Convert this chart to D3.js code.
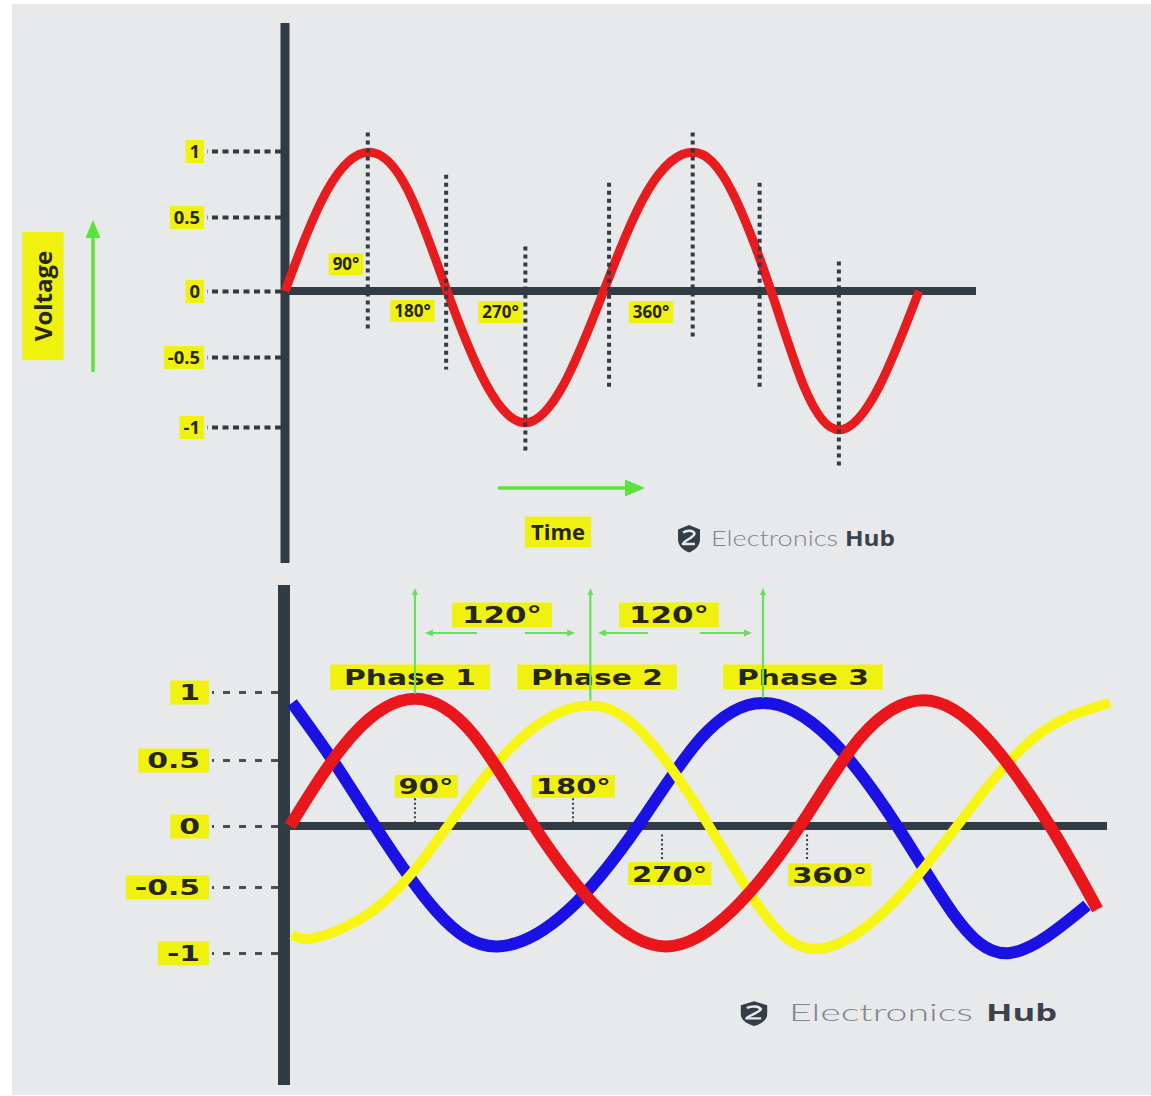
<!DOCTYPE html>
<html><head><meta charset="utf-8">
<script src="https://cdn.jsdelivr.net/npm/d3@7"></script>
<style>html,body{margin:0;padding:0;background:#fff;} svg{display:block}</style>
</head><body>
<svg id="chart" width="1151" height="1096"></svg>
<script>
// ================= DATA =================
// --- Top chart: single-phase AC voltage (x = electrical degrees, y = normalised voltage)
const topDeg  = [0, 47.7, 95.4, 139.7, 184, 228, 272.5, 317, 362, 412, 463, 507, 552, 590, 629, 674, 720];
const topVolt = [0, 0.70, 0.99, 0.70, 0, -0.69, -0.97, -0.69, 0, 0.70, 0.99, 0.70, 0, -0.72, -1.02, -0.72, 0];
const topTickValues = [1, 0.5, 0, -0.5, -1];
const topTickLabels = ["1", "0.5", "0", "-0.5", "-1"];
// dotted guide lines (degree position, top value, bottom value)
const topGuideDeg    = [94, 183, 273, 368, 463, 539, 629];
const topGuideTop    = [1.14, 0.82, 0.30, 0.76, 1.14, 0.76, 0.20];
const topGuideBottom = [-0.29, -0.59, -1.18, -0.72, -0.37, -0.72, -1.28];
const topAngleLabels = ["90°", "180°", "270°", "360°"];
const topAngleDeg    = [69.3, 144.8, 244.7, 415.6];
const topAngleVolt   = [0.18, -0.15, -0.16, -0.16];
const topAxisTitleY  = "Voltage";
const topAxisTitleX  = "Time";

// --- Bottom chart: three-phase voltages
const phaseNames = ["Phase 1", "Phase 2", "Phase 3"];
const phase1Deg = [0, 44, 88.2, 130, 172.2, 219, 265.4, 312, 360, 403, 447, 491, 536.5, 570];
const phase1Val = [0, 0.68, 0.95, 0.68, 0, -0.68, -0.95, -0.68, 0, 0.67, 0.94, 0.67, 0, -0.67];
const phase2Deg = [1.4, 19.8, 65.6, 111.5, 161, 212, 254, 295.8, 333, 370.6, 420, 470.8, 525, 578.8];
const phase2Val = [-0.86, -0.88, -0.62, 0, 0.64, 0.90, 0.64, 0, -0.68, -0.97, -0.68, 0, 0.66, 0.92];
const phase3Deg = [1.4, 30, 60, 103, 146.1, 196, 245.6, 290, 333.9, 381, 428.5, 468, 508.2, 562.6];
const phase3Val = [0.92, 0.50, 0, -0.68, -0.95, -0.68, 0, 0.66, 0.92, 0.66, 0, -0.70, -1.0, -0.64];
const botTickValues = [1, 0.5, 0, -0.5, -1];
const botTickLabels = ["1", "0.5", "0", "-0.5", "-1"];
const phaseArrowDeg  = [88.2, 212, 333.9];
const phaseArrowPeak = [0.95, 0.90, 0.92];
const phaseLabelDeg  = [84.7, 216.7, 362.1];
const shiftLabels    = ["120°", "120°"];
const shiftLabelDeg  = [149.6, 267.5];
const shiftArrowTail = [132, 165.9, 252.7, 289.4];
const shiftArrowHead = [95.3, 201.2, 217.4, 326.1];
const botAngleLabels = ["90°", "180°", "270°", "360°"];
const botAngleTickDeg = [88.2, 199.8, 262.6, 365];
const botAngleTickFrom = [0.21, 0.21, -0.07, -0.07];
const botAngleTickTo   = [0.01, 0.01, -0.27, -0.27];
const botAngleLabelDeg = [96, 200, 268, 381];
const botAngleLabelVal = [0.30, 0.30, -0.39, -0.40];
const brandLight = "Electronics";
const brandBold  = "Hub";

// ================= DRAWING =================
const W = 1151, H = 1096;
const svg = d3.select("#chart");
const AXIS = "#313b44", YEL = "#f1f10f", INK = "#26261c", GREEN = "#5be23b", GREEN2 = "#66e05a";
const FONT_TOP = "'Open Sans', 'DejaVu Sans', sans-serif";
const FONT_BOT = "'DejaVu Sans', 'Open Sans', sans-serif";

svg.append("rect").attr("width", W).attr("height", H).attr("fill", "#fff");
svg.append("rect").attr("x", 12).attr("y", 4).attr("width", W - 12).attr("height", 1091).attr("fill", "#e8e9eb");

function boxText(parent, x, y, text, o) {
  const g = parent.append("g");
  const rect = g.append("rect").attr("fill", YEL);
  const a = o.anchor || "middle";
  const t = g.append("text").attr("x", x).attr("y", y).attr("dy", "0.36em")
    .attr("text-anchor", a).attr("font-family", o.font).attr("font-weight", 700)
    .attr("font-size", o.size).attr("fill", INK).text(text);
  let L = t.node().getComputedTextLength();
  if (o.stretch && o.stretch !== 1) {
    L *= o.stretch;
    t.attr("textLength", L).attr("lengthAdjust", "spacingAndGlyphs");
  }
  const left = a === "middle" ? x - L / 2 : a === "end" ? x - L : x;
  rect.attr("x", left - o.padX).attr("y", y - o.h / 2).attr("width", L + 2 * o.padX).attr("height", o.h);
  return g;
}

function boxAxisTexts(axisG, o) {
  axisG.selectAll(".tick").each(function () {
    const tick = d3.select(this);
    const t = tick.select("text");
    t.attr("font-family", o.font).attr("font-weight", 700).attr("font-size", o.size)
      .attr("fill", INK).attr("dy", "0.36em");
    let L = t.node().getComputedTextLength();
    if (o.stretch && o.stretch !== 1) {
      L *= o.stretch;
      t.attr("textLength", L).attr("lengthAdjust", "spacingAndGlyphs");
    }
    const xEnd = +t.attr("x");
    tick.insert("rect", "text").attr("fill", YEL)
      .attr("x", xEnd - L - o.padX).attr("y", -o.h / 2)
      .attr("width", L + 2 * o.padX).attr("height", o.h);
  });
}

function arrow(parent, x1, y1, x2, y2, o) {
  const dx = x2 - x1, dy = y2 - y1, len = Math.hypot(dx, dy);
  const ux = dx / len, uy = dy / len;
  const bx = x2 - ux * o.headLen, by = y2 - uy * o.headLen;
  parent.append("line").attr("x1", x1).attr("y1", y1).attr("x2", bx + ux * 1).attr("y2", by + uy * 1)
    .attr("stroke", o.color).attr("stroke-width", o.width);
  parent.append("path")
    .attr("d", `M${x2},${y2}L${bx - uy * o.headW / 2},${by + ux * o.headW / 2}L${bx + uy * o.headW / 2},${by - ux * o.headW / 2}Z`)
    .attr("fill", o.color);
}

function logo(parent, cx, cy, sx, sy) {
  const g = parent.append("g").attr("transform", `translate(${cx},${cy}) scale(${sx},${sy})`);
  g.append("path").attr("d", "M0,-13 L11,-8.5 L11,1 C11,8 6,12 0,14.5 C-6,12 -11,8 -11,1 L-11,-8.5 Z")
    .attr("fill", "#353e46");
  g.append("path").attr("d", "M-6,-5.5 C-2,-8 4,-8 5.5,-4.5 C6,-1 -6,3 -6,6 L6,6")
    .attr("fill", "none").attr("stroke", "#e8e9eb").attr("stroke-width", 2.6).attr("stroke-linejoin", "round");
}

// ---------- TOP CHART ----------
const xTop = d3.scaleLinear().domain([0, 720]).range([285, 919]);
const yTop = d3.scaleLinear().domain([-1, -0.5, 0, 0.5, 1]).range([427, 357, 291, 217, 151]);
const gTop = svg.append("g");

// y tick labels + dotted leaders (d3 axis)
const topAxisG = gTop.append("g").attr("transform", `translate(${xTop(0) - 4},0)`)
  .call(d3.axisLeft(yTop).tickValues(topTickValues).tickFormat((d, i) => topTickLabels[i]).tickSize(74).tickPadding(7));
topAxisG.select(".domain").remove();
topAxisG.selectAll(".tick line").attr("stroke", AXIS).attr("stroke-width", 4).attr("stroke-dasharray", "6 4.5");
boxAxisTexts(topAxisG, { font: FONT_TOP, size: 17, padX: 4, h: 23, stretch: 1.08 });

// axes lines
gTop.append("line").attr("x1", xTop(0)).attr("x2", xTop(0)).attr("y1", 23).attr("y2", 563)
  .attr("stroke", AXIS).attr("stroke-width", 9);
gTop.append("line").attr("x1", xTop(0) - 4).attr("x2", 976).attr("y1", yTop(0)).attr("y2", yTop(0))
  .attr("stroke", AXIS).attr("stroke-width", 8);

// sine wave
const topLine = d3.line().x(d => xTop(d[0])).y(d => yTop(d[1])).curve(d3.curveNatural);
gTop.append("path").attr("d", topLine(d3.zip(topDeg, topVolt)))
  .attr("fill", "none").attr("stroke", "#e61c1f").attr("stroke-width", 9);

// dotted guides
gTop.selectAll(".guide").data(topGuideDeg).join("line")
  .attr("x1", d => xTop(d)).attr("x2", d => xTop(d))
  .attr("y1", (d, i) => yTop(topGuideTop[i])).attr("y2", (d, i) => yTop(topGuideBottom[i]))
  .attr("stroke", AXIS).attr("stroke-width", 4).attr("stroke-dasharray", "4 4");

// angle labels
topAngleLabels.forEach((s, i) => boxText(gTop, xTop(topAngleDeg[i]), yTop(topAngleVolt[i]), s,
  { font: FONT_TOP, size: 17, padX: 4, h: 22 }));

// Voltage title + arrow
const vg = gTop.append("g").attr("transform", "translate(43,296) rotate(-90)");
boxText(vg, 0, 0, topAxisTitleY, { font: FONT_TOP, size: 24, padX: 19, h: 41 });
arrow(gTop, 93, 372, 93, 220, { color: GREEN, width: 3.5, headLen: 18, headW: 15 });

// Time title + arrow
arrow(gTop, 498, 488, 645, 488, { color: GREEN, width: 3.5, headLen: 20, headW: 17 });
boxText(gTop, 558, 532, topAxisTitleX, { font: FONT_TOP, size: 22, padX: 6, h: 31 });

// watermark top
logo(gTop, 689, 538, 1, 1);
gTop.append("text").attr("x", 711).attr("y", 546).attr("font-family", "Lato, 'Open Sans', sans-serif")
  .attr("font-weight", 300).attr("font-size", 21).attr("fill", "#80868d")
  .attr("textLength", 127).attr("lengthAdjust", "spacingAndGlyphs").text(brandLight);
gTop.append("text").attr("x", 845).attr("y", 546).attr("font-family", FONT_TOP)
  .attr("font-weight", 700).attr("font-size", 21).attr("fill", "#3a434b")
  .attr("textLength", 50).attr("lengthAdjust", "spacingAndGlyphs").text(brandBold);

// ---------- BOTTOM CHART ----------
const xBot = d3.scaleLinear().domain([0, 360]).range([290, 800]);
const yBot = d3.scaleLinear().domain([-1, -0.5, 0, 0.5, 1]).range([953, 887, 826, 760, 692]);
const gBot = svg.append("g");

const botAxisG = gBot.append("g").attr("transform", `translate(${xBot(0) - 12},0)`)
  .call(d3.axisLeft(yBot).tickValues(botTickValues).tickFormat((d, i) => botTickLabels[i]).tickSize(66).tickPadding(12));
botAxisG.select(".domain").remove();
botAxisG.selectAll(".tick line").attr("stroke", "#4a4f55").attr("stroke-width", 3).attr("stroke-dasharray", "7 9");
boxAxisTexts(botAxisG, { font: FONT_BOT, size: 21, padX: 9, h: 24, stretch: 1.42 });

gBot.append("line").attr("x1", xBot(0) - 6).attr("x2", xBot(0) - 6).attr("y1", 585).attr("y2", 1085)
  .attr("stroke", AXIS).attr("stroke-width", 12);
gBot.append("line").attr("x1", xBot(0) - 6).attr("x2", 1107).attr("y1", yBot(0)).attr("y2", yBot(0))
  .attr("stroke", AXIS).attr("stroke-width", 8);

const botLine = d3.line().x(d => xBot(d[0])).y(d => yBot(d[1])).curve(d3.curveNatural);
gBot.append("path").attr("d", botLine(d3.zip(phase3Deg, phase3Val)))
  .attr("fill", "none").attr("stroke", "#1a12e4").attr("stroke-width", 12);
gBot.append("path").attr("d", botLine(d3.zip(phase2Deg, phase2Val)))
  .attr("fill", "none").attr("stroke", "#f7f514").attr("stroke-width", 10);
gBot.append("path").attr("d", botLine(d3.zip(phase1Deg, phase1Val)))
  .attr("fill", "none").attr("stroke", "#e9171b").attr("stroke-width", 12);

// angle ticks & labels
gBot.selectAll(".atick").data(botAngleTickDeg).join("line")
  .attr("x1", d => xBot(d)).attr("x2", d => xBot(d))
  .attr("y1", (d, i) => yBot(botAngleTickFrom[i])).attr("y2", (d, i) => yBot(botAngleTickTo[i]))
  .attr("stroke", "#3a3f44").attr("stroke-width", 2).attr("stroke-dasharray", "2 2.5");
botAngleLabels.forEach((s, i) => boxText(gBot, xBot(botAngleLabelDeg[i]), yBot(botAngleLabelVal[i]), s,
  { font: FONT_BOT, size: 22, padX: 4, h: 23, stretch: 1.32 }));

// phase labels & 120° labels
phaseNames.forEach((s, i) => boxText(gBot, xBot(phaseLabelDeg[i]), yBot(1) - 15, s,
  { font: FONT_BOT, size: 22, padX: 14, h: 25, stretch: 1.35 }));
shiftLabels.forEach((s, i) => boxText(gBot, xBot(shiftLabelDeg[i]), yBot(1) - 77, s,
  { font: FONT_BOT, size: 23, padX: 10, h: 25, stretch: 1.34 }));

// green arrows
phaseArrowDeg.forEach((d, i) => arrow(gBot, xBot(d), yBot(phaseArrowPeak[i]) - 5, xBot(d), yBot(1) - 104,
  { color: GREEN2, width: 2.2, headLen: 7, headW: 6 }));
shiftArrowTail.forEach((d, i) => arrow(gBot, xBot(d), yBot(1) - 59, xBot(shiftArrowHead[i]), yBot(1) - 59,
  { color: GREEN2, width: 2.2, headLen: 8, headW: 7 }));

// watermark bottom
logo(gBot, 754, 1013, 1.2, 0.9);
gBot.append("text").attr("x", 789).attr("y", 1021).attr("font-family", "Lato, 'Open Sans', sans-serif")
  .attr("font-weight", 300).attr("font-size", 23).attr("fill", "#80868d")
  .attr("textLength", 184).attr("lengthAdjust", "spacingAndGlyphs").text(brandLight);
gBot.append("text").attr("x", 986).attr("y", 1021).attr("font-family", FONT_TOP)
  .attr("font-weight", 700).attr("font-size", 23).attr("fill", "#3a434b")
  .attr("textLength", 71).attr("lengthAdjust", "spacingAndGlyphs").text(brandBold);
</script>
</body></html>
